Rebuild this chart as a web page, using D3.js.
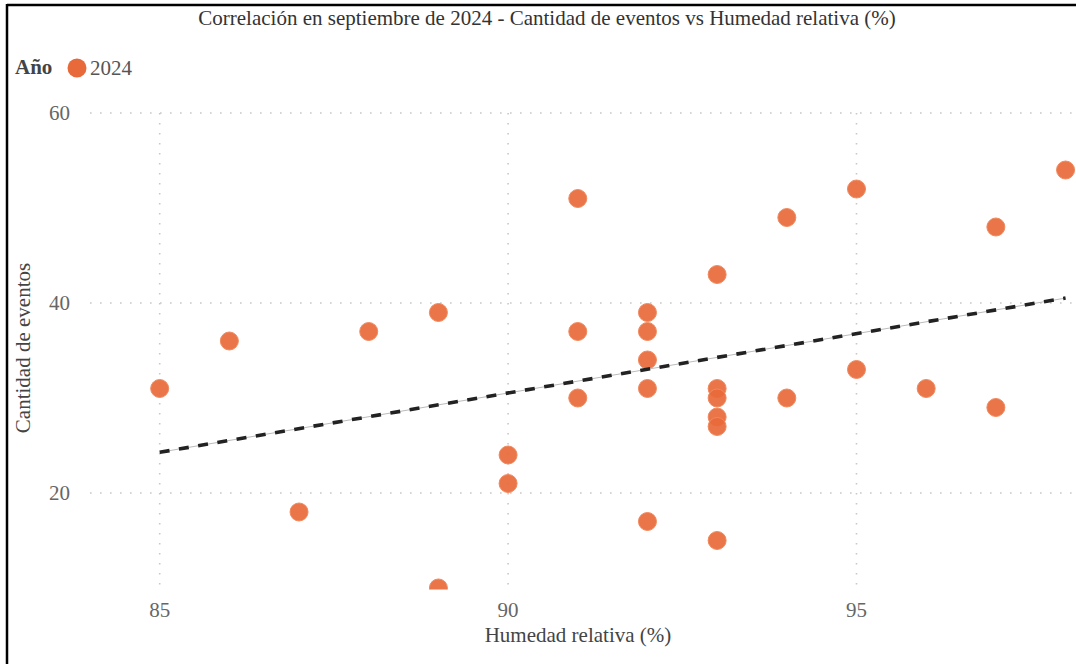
<!DOCTYPE html>
<html>
<head>
<meta charset="utf-8">
<script src="https://cdn.jsdelivr.net/npm/d3@7"></script>
<style>
  body { margin: 0; background: #fff; }
  #chart { width: 1076px; height: 664px; }
  text { font-family: "Liberation Serif", "DejaVu Serif", serif; }
</style>
</head>
<body>
<div id="chart"></div>
<script>

/*------Data: September 2024, humidity vs number of events------*/

var humedad = [85, 86, 87, 88, 89, 89, 90, 90, 91, 91, 91, 92, 92, 92, 92, 92,
               93, 93, 93, 93, 93, 93, 94, 94, 95, 95, 96, 97, 97, 98];
var eventos = [31, 36, 18, 37, 39, 10, 24, 21, 51, 37, 30, 39, 37, 34, 31, 17,
               43, 31, 30, 28, 27, 15, 49, 30, 52, 33, 31, 48, 29, 54];
var xTicks = [85, 90, 95];
var yTicks = [20, 40, 60];
var serie = "2024";

var data = humedad.map(function(h, i) { return {x: h, y: eventos[i]}; });

/*------svg canvas------*/

var width = 1076;
var height = 664;
var svg = d3.select("#chart")
    .append("svg")
    .attr("width", width)
    .attr("height", height);

// frame: only top and left edges show in the picture
svg.append("line").attr("x1", 7).attr("y1", 5).attr("x2", width).attr("y2", 5)
    .attr("stroke", "#000").attr("stroke-width", 2.5);
svg.append("line").attr("x1", 7).attr("y1", 4).attr("x2", 7).attr("y2", height)
    .attr("stroke", "#000").attr("stroke-width", 2.5);

var plot = {left: 90, right: 1076, top: 100, bottom: 589.5};

var x = d3.scaleLinear().domain([84, 98.15]).range([plot.left, plot.right]);
var y = d3.scaleLinear().domain([9.84, 61.37]).range([plot.bottom, plot.top]);

var fs = "21px";

/*------Title and legend------*/

svg.append("text")
    .attr("x", 547).attr("y", 25)
    .attr("text-anchor", "middle")
    .style("font-size", fs)
    .style("fill", "#333")
    .text("Correlación en septiembre de 2024 - Cantidad de eventos vs Humedad relativa (%)");

svg.append("text").attr("x", 15).attr("y", 74)
    .style("font-size", fs).style("font-weight", "bold").style("fill", "#444")
    .text("Año");
svg.append("circle").attr("cx", 77).attr("cy", 68).attr("r", 9.5)
    .style("fill", "#e8693a");
svg.append("text").attr("x", 90).attr("y", 75)
    .style("font-size", fs).style("fill", "#555")
    .text(serie);

/*------Grid------*/

svg.append("g").selectAll("line")
    .data(yTicks)
    .enter().append("line")
    .attr("x1", plot.left).attr("x2", plot.right)
    .attr("y1", function(d) { return y(d); })
    .attr("y2", function(d) { return y(d); })
    .attr("stroke", "#c8c8c8").attr("stroke-width", 1.6)
    .attr("stroke-dasharray", "1.6,8.4");

svg.append("g").selectAll("line")
    .data(xTicks)
    .enter().append("line")
    .attr("x1", function(d) { return x(d); })
    .attr("x2", function(d) { return x(d); })
    .attr("y1", plot.top + 13).attr("y2", plot.bottom)
    .attr("stroke", "#c8c8c8").attr("stroke-width", 1.6)
    .attr("stroke-dasharray", "1.6,8.4");

/*------Axis labels------*/

svg.append("g").selectAll("text")
    .data(yTicks)
    .enter().append("text")
    .attr("x", 70)
    .attr("y", function(d) { return y(d) + 7; })
    .attr("text-anchor", "end")
    .style("font-size", fs).style("fill", "#666")
    .text(function(d) { return d; });

svg.append("g").selectAll("text")
    .data(xTicks)
    .enter().append("text")
    .attr("x", function(d) { return x(d); })
    .attr("y", 617)
    .attr("text-anchor", "middle")
    .style("font-size", fs).style("fill", "#666")
    .text(function(d) { return d; });

svg.append("text")
    .attr("x", 578).attr("y", 642)
    .attr("text-anchor", "middle")
    .style("font-size", fs).style("fill", "#444")
    .text("Humedad relativa (%)");

svg.append("text")
    .attr("transform", "translate(30,348) rotate(-90)")
    .attr("text-anchor", "middle")
    .style("font-size", fs).style("fill", "#444")
    .text("Cantidad de eventos");

/*------Points (clipped to plot area)------*/

svg.append("clipPath").attr("id", "clip")
    .append("rect")
    .attr("x", plot.left).attr("y", plot.top)
    .attr("width", plot.right - plot.left)
    .attr("height", plot.bottom - plot.top);

var g = svg.append("g").attr("clip-path", "url(#clip)");

g.selectAll("circle")
    .data(data)
    .enter().append("circle")
    .attr("cx", function(d) { return x(d.x); })
    .attr("cy", function(d) { return y(d.y); })
    .attr("r", 9)
    .style("fill", "#e8693a")
    .style("fill-opacity", 0.92)
    .style("stroke", "#f0895e")
    .style("stroke-width", 1);

/*------Trend line: least squares fit------*/

var mx = d3.mean(data, function(d) { return d.x; });
var my = d3.mean(data, function(d) { return d.y; });
var sxy = d3.sum(data, function(d) { return (d.x - mx) * (d.y - my); });
var sxx = d3.sum(data, function(d) { return (d.x - mx) * (d.x - mx); });
var slope = sxy / sxx;
var icpt = my - slope * mx;
var xr = d3.extent(humedad);
var trend = xr.map(function(v) { return [x(v), y(icpt + slope * v)]; });

svg.append("path")
    .attr("d", d3.line()(trend))
    .attr("fill", "none")
    .attr("stroke", "#bbb")
    .attr("stroke-width", 1);

svg.append("path")
    .attr("d", d3.line()(trend))
    .attr("fill", "none")
    .attr("stroke", "#222")
    .attr("stroke-width", 3.6)
    .attr("stroke-dasharray", "10,9.5");

</script>
</body>
</html>
